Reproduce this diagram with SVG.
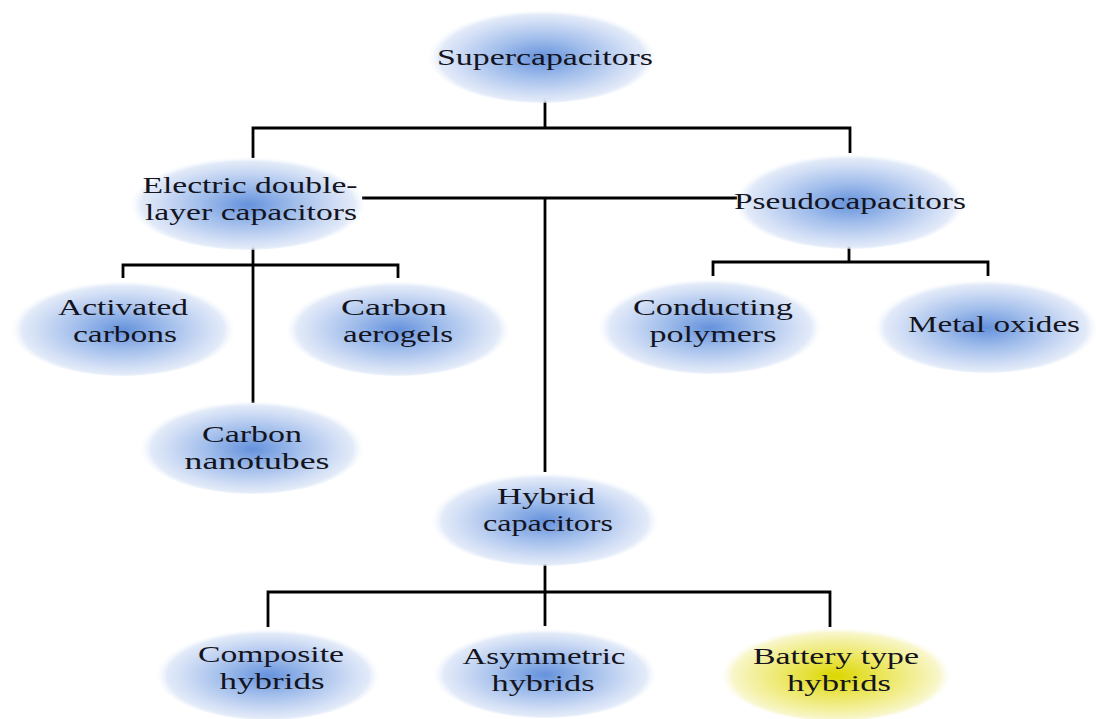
<svg xmlns="http://www.w3.org/2000/svg" width="1096" height="719" viewBox="0 0 1096 719">
<style>
.c{stroke:#000;stroke-width:2.8;fill:none}
.b{fill:url(#gb)}
.y{fill:url(#gy)}
text{font-family:"Liberation Serif","Times New Roman",serif;font-size:24px;fill:#141420;text-anchor:middle}
</style>
<defs>
<radialGradient id="gb" cx="0.5" cy="0.53" r="0.5">
<stop offset="0" stop-color="#6592dc"/>
<stop offset="0.4" stop-color="#a0bdeb"/>
<stop offset="0.75" stop-color="#d0ddf5"/>
<stop offset="0.9" stop-color="#e0e9f8" stop-opacity="0.95"/>
<stop offset="1" stop-color="#f2f6fc" stop-opacity="0"/>
</radialGradient>
<radialGradient id="gy" cx="0.5" cy="0.53" r="0.5">
<stop offset="0" stop-color="#dcd600"/>
<stop offset="0.4" stop-color="#ebe65a"/>
<stop offset="0.75" stop-color="#f4f1a6"/>
<stop offset="0.9" stop-color="#f8f6c8" stop-opacity="0.95"/>
<stop offset="1" stop-color="#fbfae6" stop-opacity="0"/>
</radialGradient>
</defs>
<rect width="1096" height="719" fill="#fff"/>
<g id="connectors">
<path class="c" d="M545,98V128M253,158V128H850V153"/>
<path class="c" d="M362,198H737M545,198V472"/>
<path class="c" d="M253,246V403M123,278V265H398V278"/>
<path class="c" d="M849,246V262M713,276V262H988V276"/>
<path class="c" d="M545,564V592M268,627V592H830V627M545,592V626"/>
</g>
<g id="supercapacitors"><ellipse class="b" cx="542" cy="55" rx="114" ry="48"/><text x="545" y="65" textLength="216" lengthAdjust="spacingAndGlyphs">Supercapacitors</text></g>
<g id="edlc"><ellipse class="b" cx="248" cy="202" rx="118" ry="48"/><text x="250" y="192.5" textLength="215" lengthAdjust="spacingAndGlyphs">Electric double-</text><text x="251" y="219.5" textLength="212" lengthAdjust="spacingAndGlyphs">layer capacitors</text></g>
<g id="pseudocapacitors"><ellipse class="b" cx="850" cy="200" rx="116" ry="49"/><text x="850" y="209" textLength="232" lengthAdjust="spacingAndGlyphs">Pseudocapacitors</text></g>
<g id="activated"><ellipse class="b" cx="123" cy="327" rx="112" ry="49"/><text x="123" y="314.5" textLength="130" lengthAdjust="spacingAndGlyphs">Activated</text><text x="125" y="341.5" textLength="104" lengthAdjust="spacingAndGlyphs">carbons</text></g>
<g id="aerogels"><ellipse class="b" cx="398" cy="327" rx="112" ry="49"/><text x="394" y="314.5" textLength="106" lengthAdjust="spacingAndGlyphs">Carbon</text><text x="398" y="341.5" textLength="110" lengthAdjust="spacingAndGlyphs">aerogels</text></g>
<g id="nanotubes"><ellipse class="b" cx="252" cy="446" rx="112" ry="48"/><text x="252" y="442" textLength="100" lengthAdjust="spacingAndGlyphs">Carbon</text><text x="257" y="469" textLength="145" lengthAdjust="spacingAndGlyphs">nanotubes</text></g>
<g id="conducting"><ellipse class="b" cx="710" cy="325" rx="112" ry="49"/><text x="713" y="315" textLength="160" lengthAdjust="spacingAndGlyphs">Conducting</text><text x="713" y="342" textLength="127" lengthAdjust="spacingAndGlyphs">polymers</text></g>
<g id="metaloxides"><ellipse class="b" cx="986" cy="325" rx="112" ry="48"/><text x="994" y="332" textLength="172" lengthAdjust="spacingAndGlyphs">Metal oxides</text></g>
<g id="hybrid"><ellipse class="b" cx="545" cy="518" rx="114" ry="48"/><text x="546" y="504" textLength="98" lengthAdjust="spacingAndGlyphs">Hybrid</text><text x="548" y="531" textLength="130" lengthAdjust="spacingAndGlyphs">capacitors</text></g>
<g id="composite"><ellipse class="b" cx="268" cy="673" rx="112" ry="47"/><text x="271" y="661.5" textLength="146" lengthAdjust="spacingAndGlyphs">Composite</text><text x="272" y="688.5" textLength="105" lengthAdjust="spacingAndGlyphs">hybrids</text></g>
<g id="asymmetric"><ellipse class="b" cx="545" cy="672" rx="112" ry="46"/><text x="544" y="664" textLength="163" lengthAdjust="spacingAndGlyphs">Asymmetric</text><text x="543" y="691" textLength="103" lengthAdjust="spacingAndGlyphs">hybrids</text></g>
<g id="battery"><ellipse class="y" cx="836" cy="673" rx="115" ry="48"/><text x="836" y="664" textLength="166" lengthAdjust="spacingAndGlyphs">Battery type</text><text x="839" y="691" textLength="104" lengthAdjust="spacingAndGlyphs">hybrids</text></g>
</svg>
